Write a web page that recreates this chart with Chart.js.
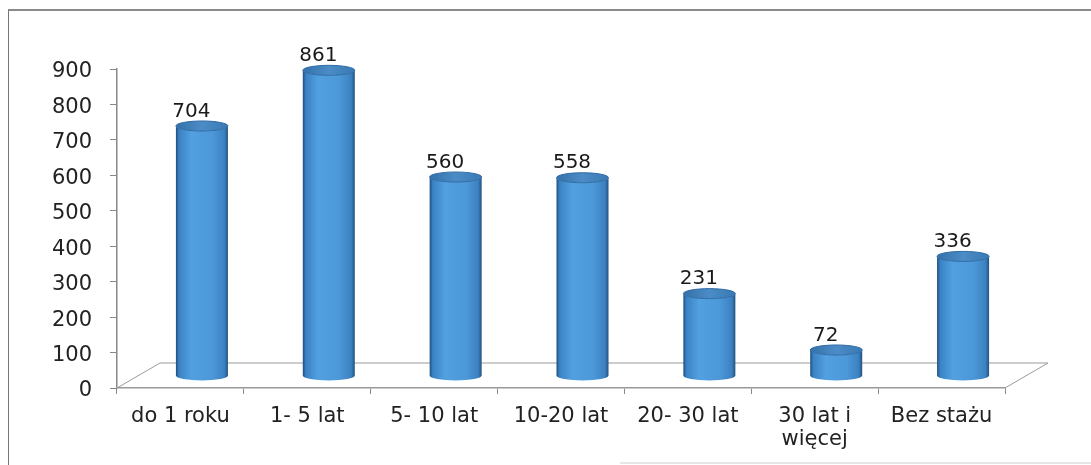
<!DOCTYPE html>
<html>
<head>
<meta charset="utf-8">
<script src="https://cdn.jsdelivr.net/npm/chart.js@4"></script>
<style>
  body { margin: 0; background: #fff; }
  #wrap { position: relative; width: 1091px; height: 465px; }
  #frame { position: absolute; left: 8px; top: 9px; right: 0; bottom: 0;
           border-left: 1.5px solid #777; border-top: 2px solid #8a8a8a; }
  #scan { position: absolute; left: 620px; right: 0; top: 462px; height: 2px; background: #e6e6e6; }
</style>
</head>
<body>
<div id="wrap">
  <canvas id="chart" width="1091" height="465"></canvas>
  <div id="frame"></div>
  <div id="scan"></div>
</div>
<script>
const categories = ['do 1 roku', '1- 5 lat', '5- 10 lat', '10-20 lat', '20- 30 lat', ['30 lat i', 'więcej'], 'Bez stażu'];
const values = [704, 861, 560, 558, 231, 72, 336];
const yMax = 900;
const yStep = 100;

// przesunięcie głębi 3D (podłoga)
const DX = 43, DY = -25;
const FONT = 'DejaVu Sans';

const cylinders = {
    id: 'cylinders',
    beforeDatasetsDraw(chart) {
        const { ctx, chartArea: a, scales: { y } } = chart;
        const y0 = y.getPixelForValue(0);
        ctx.save();
        ctx.strokeStyle = '#9a9a9a';
        ctx.lineWidth = 1;
        ctx.beginPath();
        ctx.moveTo(a.left, y0);
        ctx.lineTo(a.left + DX, y0 + DY);
        ctx.lineTo(a.right + DX, y0 + DY);
        ctx.lineTo(a.right, y0);
        ctx.stroke();
        ctx.restore();
    },
    afterDatasetsDraw(chart) {
        const { ctx, scales: { y } } = chart;
        const y0 = y.getPixelForValue(0);
        const meta = chart.getDatasetMeta(0);
        meta.data.forEach((el, i) => {
            const cx = el.x + DX / 2;
            const rx = el.width / 2;
            const ry = 5;
            const bot = y0 + DY / 2;
            const top = el.y + DY / 2;
            ctx.save();
            const g = ctx.createLinearGradient(cx - rx, 0, cx + rx, 0);
            g.addColorStop(0, '#1f4f80');
            g.addColorStop(0.06, '#3a82c4');
            g.addColorStop(0.3, '#52a0e0');
            g.addColorStop(0.7, '#4c98d8');
            g.addColorStop(0.93, '#3c82c2');
            g.addColorStop(1, '#22537f');
            ctx.beginPath();
            ctx.moveTo(cx - rx, top);
            ctx.lineTo(cx - rx, bot);
            ctx.ellipse(cx, bot, rx, ry, 0, Math.PI, 0, true);
            ctx.lineTo(cx + rx, top);
            ctx.ellipse(cx, top, rx, ry, 0, 0, Math.PI, false);
            ctx.closePath();
            ctx.fillStyle = g;
            ctx.fill();
            // górna pokrywa
            const gt = ctx.createLinearGradient(cx - rx, 0, cx + rx, 0);
            gt.addColorStop(0, '#3471aa');
            gt.addColorStop(0.5, '#4c8cc6');
            gt.addColorStop(1, '#3a7ab4');
            ctx.beginPath();
            ctx.ellipse(cx, top, rx, ry, 0, 0, Math.PI * 2);
            ctx.fillStyle = gt;
            ctx.fill();
            ctx.strokeStyle = '#2f6aa4';
            ctx.lineWidth = 1;
            ctx.stroke();
            // etykieta wartości
            ctx.fillStyle = '#1a1a1a';
            ctx.font = '20px "' + FONT + '"';
            ctx.textAlign = 'center';
            ctx.textBaseline = 'middle';
            ctx.fillText(String(values[i]), el.x + 11, el.y - 27);
            ctx.restore();
        });
    }
};

new Chart(document.getElementById('chart'), {
    type: 'bar',
    data: {
        labels: categories,
        datasets: [{
            data: values,
            backgroundColor: 'rgba(0,0,0,0)',
            barPercentage: 0.41,
            categoryPercentage: 1
        }]
    },
    options: {
        responsive: false,
        animation: false,
        layout: { padding: { left: 0, right: 86, top: 69, bottom: 0 } },
        plugins: { legend: { display: false }, tooltip: { enabled: false } },
        scales: {
            y: {
                min: 0,
                max: yMax,
                afterFit: s => { s.width = 117; },
                ticks: { stepSize: yStep, padding: 18, labelOffset: 3, color: '#222', font: { family: FONT, size: 21 } },
                grid: { drawOnChartArea: false, tickLength: 7, color: '#888' },
                border: { color: '#888', width: 1.5 }
            },
            x: {
                afterFit: s => { s.height = 77; },
                ticks: { padding: 12, color: '#222', maxRotation: 0, font: { family: FONT, size: 21, lineHeight: 1.05 } },
                grid: { drawOnChartArea: false, offset: true, tickLength: 6, color: '#888' },
                border: { color: '#999', width: 1.5 }
            }
        }
    },
    plugins: [cylinders]
});
</script>
</body>
</html>
